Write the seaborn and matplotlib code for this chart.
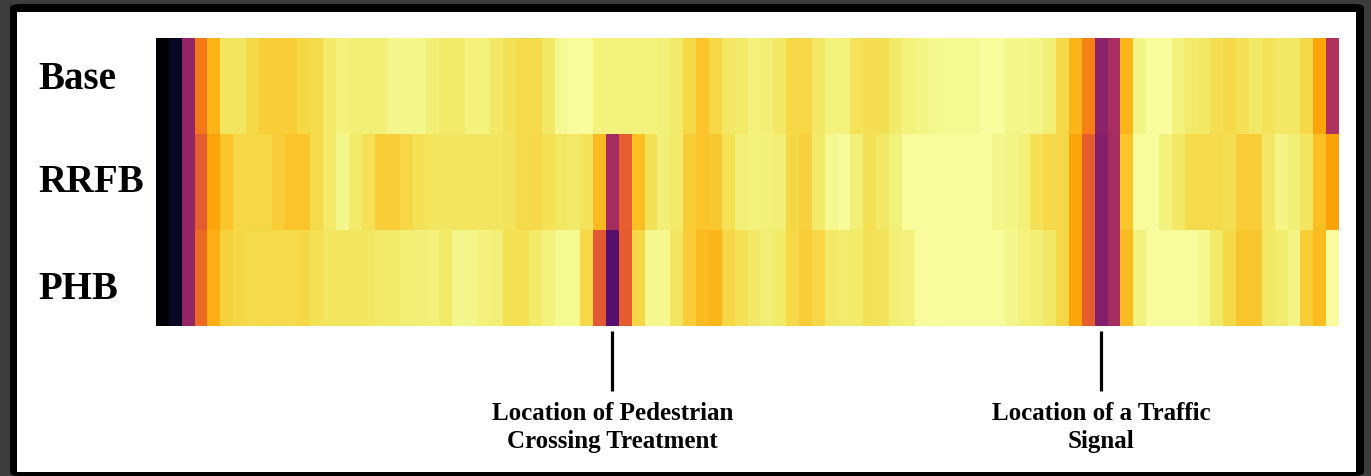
import matplotlib
matplotlib.use('Agg')
import matplotlib.pyplot as plt
import seaborn as sns
import pandas as pd
from matplotlib.patches import FancyBboxPatch, Rectangle

# normalised values per road segment
scenarios = ['Base', 'RRFB', 'PHB']

base = [0.00, 0.06, 0.40, 0.70, 0.83, 0.93, 0.93, 0.90, 0.88, 0.88,
        0.88, 0.90, 0.91, 0.94, 0.96, 0.95, 0.95, 0.95, 0.97, 0.97,
        0.97, 0.95, 0.94, 0.94, 0.96, 0.96, 0.935, 0.92, 0.91, 0.91,
        0.935, 0.98, 0.99, 0.99, 0.96, 0.96, 0.96, 0.96, 0.96, 0.955,
        0.94, 0.90, 0.86, 0.90, 0.935, 0.94, 0.96, 0.95, 0.935, 0.90,
        0.90, 0.935, 0.96, 0.96, 0.92, 0.915, 0.915, 0.94, 0.96, 0.965,
        0.975, 0.98, 0.98, 0.98, 0.99, 0.99, 0.97, 0.97, 0.965, 0.95,
        0.90, 0.83, 0.72, 0.38, 0.45, 0.83, 0.965, 0.99, 0.99, 0.96,
        0.94, 0.935, 0.915, 0.905, 0.92, 0.935, 0.925, 0.935, 0.935, 0.905,
        0.80, 0.47]

rrfb = [0.00, 0.06, 0.40, 0.63, 0.80, 0.86, 0.90, 0.90, 0.90, 0.88,
        0.86, 0.86, 0.91, 0.94, 0.97, 0.94, 0.92, 0.88, 0.88, 0.90,
        0.92, 0.93, 0.93, 0.93, 0.93, 0.93, 0.93, 0.925, 0.91, 0.905,
        0.92, 0.93, 0.94, 0.925, 0.84, 0.44, 0.64, 0.85, 0.92, 0.95,
        0.94, 0.88, 0.86, 0.87, 0.92, 0.955, 0.96, 0.955, 0.95, 0.90,
        0.89, 0.94, 0.975, 0.985, 0.95, 0.92, 0.935, 0.955, 0.99, 0.99,
        0.99, 0.99, 0.99, 0.99, 0.99, 0.97, 0.965, 0.955, 0.92, 0.905,
        0.90, 0.80, 0.64, 0.36, 0.44, 0.86, 0.99, 0.99, 0.96, 0.935,
        0.91, 0.91, 0.91, 0.915, 0.88, 0.88, 0.935, 0.965, 0.95, 0.93,
        0.85, 0.79]

phb = [0.00, 0.06, 0.40, 0.67, 0.82, 0.89, 0.90, 0.91, 0.91, 0.91,
       0.91, 0.90, 0.92, 0.93, 0.93, 0.93, 0.93, 0.94, 0.94, 0.95,
       0.95, 0.955, 0.94, 0.97, 0.97, 0.96, 0.95, 0.92, 0.92, 0.94,
       0.96, 0.98, 0.98, 0.905, 0.62, 0.25, 0.63, 0.90, 0.975, 0.975,
       0.93, 0.88, 0.84, 0.835, 0.90, 0.92, 0.935, 0.95, 0.94, 0.905,
       0.88, 0.90, 0.935, 0.945, 0.94, 0.92, 0.925, 0.95, 0.96, 0.99,
       0.99, 0.99, 0.99, 0.99, 0.99, 0.99, 0.97, 0.96, 0.95, 0.935,
       0.90, 0.80, 0.64, 0.36, 0.44, 0.84, 0.96, 0.99, 0.99, 0.99,
       0.99, 0.975, 0.94, 0.905, 0.865, 0.865, 0.935, 0.945, 0.965, 0.88,
       0.845, 0.99]

treatment_col = 35
signal_col = 73

df = pd.DataFrame([base, rrfb, phb], index=scenarios)

W, H = 1371, 476
fig = plt.figure(figsize=(W / 100, H / 100), dpi=100, facecolor='#3c3c3c')

# black frame + white page (kept behind the axes)
fig.patches.append(FancyBboxPatch((10 / W, 0), 1354 / W, 472 / H,
                                  boxstyle='round,pad=0,rounding_size=0.008',
                                  transform=fig.transFigure, fc='black',
                                  ec='none', zorder=-3))
fig.patches.append(Rectangle((17 / W, 4 / H), 1339 / W, 460 / H,
                             transform=fig.transFigure, fc='white',
                             ec='none', zorder=-2))

ax = fig.add_axes([156 / W, (H - 325.7) / H, 1183 / W, 287.7 / H])
sns.heatmap(df, cmap='inferno', vmin=0, vmax=1, cbar=False, ax=ax,
            xticklabels=False)

serif = 'Liberation Serif'
ax.set_yticks([0.43, 1.51, 2.62])
ax.set_yticklabels(scenarios, fontsize=28, fontweight='bold', family=serif,
                   ha='left', rotation=0)
ax.tick_params(axis='y', length=0, pad=85)
ax.tick_params(axis='x', length=0)
ax.set_xlabel('')
ax.set_ylabel('')

# markers below the heatmap
notes = {treatment_col: 'Location of Pedestrian\nCrossing Treatment',
         signal_col: 'Location of a Traffic\nSignal'}
for col, label in notes.items():
    ax.plot([col + 0.5, col + 0.5], [3.06, 3.68], color='black', lw=2.3,
            clip_on=False, solid_capstyle='butt')
    ax.text(col + 0.5, 3.80, label, ha='center', va='top', fontsize=18,
            fontweight='bold', family=serif, linespacing=1.25)

fig.savefig('out.png', dpi=100, facecolor=fig.get_facecolor())
